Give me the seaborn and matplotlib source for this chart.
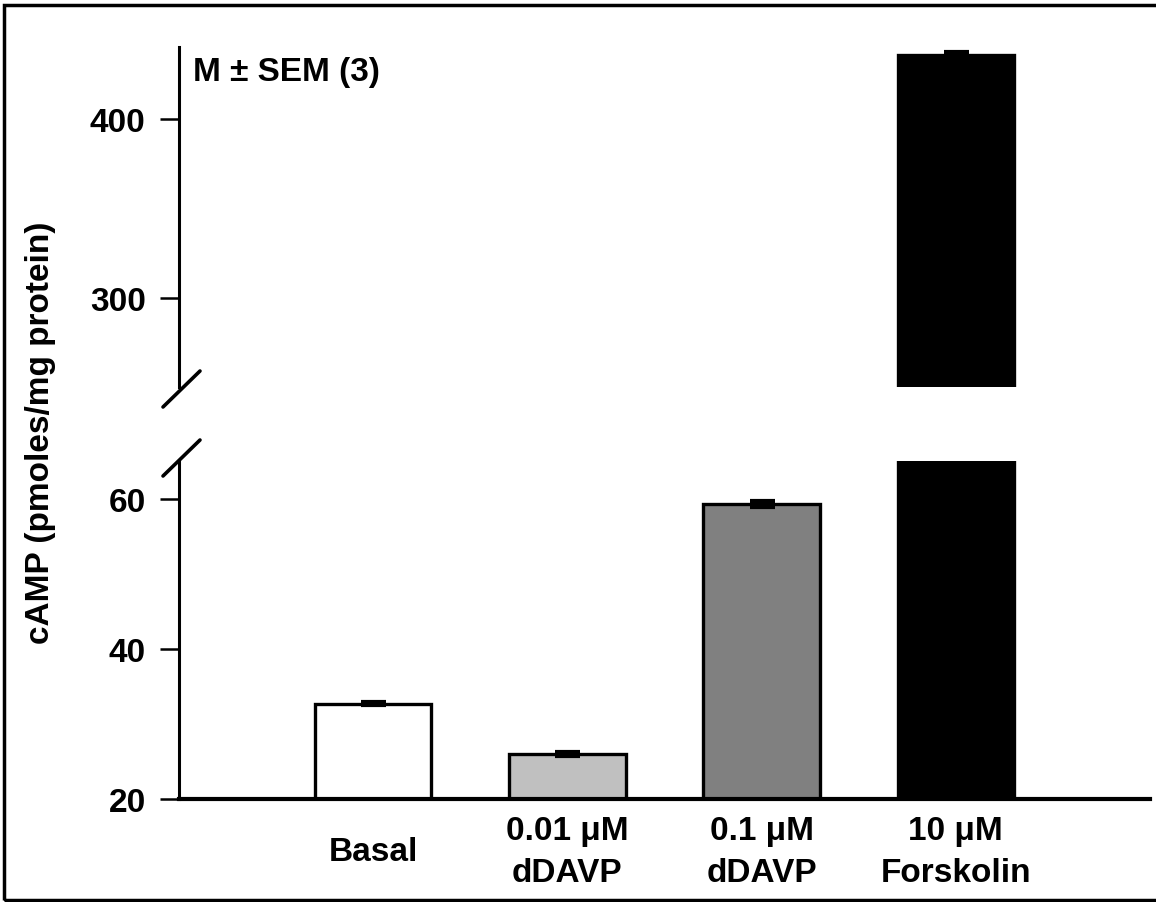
import matplotlib
matplotlib.use("Agg")
import matplotlib.pyplot as plt
import seaborn as sns
import numpy as np
import pandas as pd
from matplotlib.patches import Rectangle

categories = ["Basal", "0.01 μM\ndDAVP", "0.1 μM\ndDAVP", "10 μM\nForskolin"]
means = [32.7, 26.0, 59.3, 435.5]
sems = [0.15, 0.3, 0.4, 1.5]
bar_colors = ["#ffffff", "#c0c0c0", "#808080", "#000000"]
lower_ticks = [20, 40, 60]
upper_ticks = [300, 400]
lower_lim = (20, 65)
upper_lim = (250, 440)

sns.set_style("white")
plt.rcParams['font.family'] = ['Liberation Sans', 'DejaVu Sans']
plt.rcParams['font.weight'] = 'bold'
plt.rcParams['text.color'] = 'black'
plt.rcParams['axes.labelcolor'] = 'black'
plt.rcParams['xtick.color'] = 'black'
plt.rcParams['ytick.color'] = 'black'

df = pd.DataFrame({"cond": categories, "val": means})

W, H = 1156, 903
fig = plt.figure(figsize=(W / 100, H / 100), dpi=100)

def fx(px):
    return px / W

def fy(py):
    return 1 - py / H

left, right = 179, 1150
ax_lo = fig.add_axes([fx(left), fy(800), fx(right - left), fy(462) - fy(800)])
ax_hi = fig.add_axes([fx(left), fy(388), fx(right - left), fy(48) - fy(388)])

FS = 24

for ax in (ax_lo, ax_hi):
    sns.barplot(data=df, x="cond", y="val", hue="cond", palette=bar_colors,
                legend=False, ax=ax, width=0.6, edgecolor="black",
                linewidth=2.4, errorbar=None, saturation=1)
    ax.errorbar(np.arange(len(means)), means, yerr=sems, fmt="none",
                ecolor="black", elinewidth=2.5, capsize=9, capthick=3, zorder=5)
    ax.set_xlim(-1, 4)
    ax.set_xlabel("")
    ax.set_ylabel("")
    ax.set_facecolor("none")
    for s in ("top", "right"):
        ax.spines[s].set_visible(False)
    ax.spines["left"].set_linewidth(2.2)
    ax.spines["left"].set_color("black")
    ax.tick_params(axis="y", direction="out", length=14, width=1.8,
                   labelsize=FS, pad=10, left=True, colors="black")

ax_lo.set_ylim(*lower_lim)
ax_lo.set_yticks(lower_ticks)
ax_lo.spines["bottom"].set_linewidth(3)
ax_lo.spines["bottom"].set_color("black")
ax_lo.set_xticks(range(len(categories)))
ax_lo.set_xticklabels(categories, fontsize=FS, fontweight="bold", linespacing=1.45)
ax_lo.tick_params(axis="x", length=0, pad=38)
for lab in ax_lo.get_xticklabels():
    lab.set_verticalalignment("center")

ax_hi.set_ylim(*upper_lim)
ax_hi.set_yticks(upper_ticks)
ax_hi.spines["bottom"].set_visible(False)
ax_hi.set_xticks([])

for lab in ax_lo.get_yticklabels() + ax_hi.get_yticklabels():
    lab.set_fontweight("bold")

# break marks
def slash(cx, cy):
    fig.add_artist(plt.Line2D([fx(cx - 18), fx(cx + 19)], [fy(cy + 18), fy(cy - 18)],
                              color="black", lw=2.6, solid_capstyle="round",
                              transform=fig.transFigure))

slash(181, 459)
slash(181, 390)

fig.text(fx(41), fy(433), "cAMP (pmoles/mg protein)", rotation=90, ha="center",
         va="center", fontsize=FS, fontweight="bold", color="black")
fig.text(fx(193), fy(72), "M ± SEM (3)", ha="left", va="center",
         fontsize=FS, fontweight="bold", color="black")

fig.add_artist(Rectangle((fx(4), fy(901)), 1.2, fy(6) - fy(901), fill=False,
                         edgecolor="black", lw=2.5, transform=fig.transFigure))

fig.savefig("out.png", dpi=100, facecolor="white")
